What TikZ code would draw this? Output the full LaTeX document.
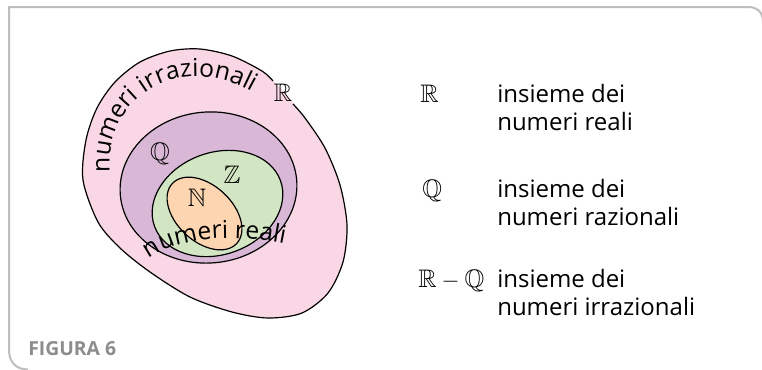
\documentclass[tikz,border=0pt]{standalone}
\usepackage{fontspec}
\usepackage{amssymb}
\setmainfont{Open Sans}
\usetikzlibrary{decorations.text}

\newcommand{\fontVenn}{\fontsize{18.5}{21}\selectfont}

\begin{document}
\begin{tikzpicture}[x=0.75pt, y=-0.75pt,
  testo/.style={font=\fontsize{18}{21}\selectfont, inner sep=0pt, anchor=base west},
  insieme/.style={font=\fontsize{19}{21}\selectfont, inner sep=0pt},
  bordo/.style={draw=black, line width=0.9pt}]

% Colori
\definecolor{colR}{HTML}{F9D7E4}
\definecolor{colQ}{HTML}{D9B7D6}
\definecolor{colZ}{HTML}{D3E6C3}
\definecolor{colN}{HTML}{FDD5B0}
\definecolor{frameGray}{HTML}{BEBEBE}
\definecolor{titleGray}{HTML}{8C8C8C}

\path[use as bounding box, fill=white] (0,0) rectangle (762,369);

% Cornice
\draw[frameGray, line width=1.5pt] (28,369.5) .. controls (16,369.5) and (9,362) .. (9,350)
  -- (9,7) -- (748,7) .. controls (757,7) and (763,12) .. (763,22);

% Insieme R (contorno interrotto sotto l'etichetta)
\fill[colR] plot[smooth cycle] coordinates {(83,180) (86,140) (97,108) (115,82) (140,62)
  (170,51) (200,49) (232,56) (262,71) (283,91) (305,118) (325,148) (340,185) (347,225)
  (343,262) (328,293) (302,313) (268,318) (232,312) (190,297) (150,272) (120,248) (98,222)};
\draw[bordo] plot[smooth] coordinates {(293,104) (305,118) (325,148) (340,185) (347,225)
  (343,262) (328,293) (302,313) (268,318) (232,312) (190,297) (150,272) (120,248) (98,222)
  (83,180) (86,140) (97,108) (115,82) (140,62) (170,51) (200,49) (232,56) (262,71) (273,81)};

% Insiemi Q, Z, N
\draw[bordo, fill=colQ, rotate around={5:(208.5,187.5)}] (208.5,187.5) ellipse [x radius=88.5, y radius=75.5];
\draw[bordo, fill=colZ, rotate around={20:(217.5,203.5)}] (217.5,203.5) ellipse [x radius=67, y radius=51];
\draw[bordo, fill=colN, rotate around={-43:(204.5,213.5)}] (204.5,213.5) ellipse [x radius=44, y radius=28];

% Etichette degli insiemi
\node[insieme] (labR) at (283,93) {$\mathbb{R}$};
\node[insieme] (labQ) at (160,154) {$\mathbb{Q}$};
\node[insieme] (labZ) at (232,175) {$\mathbb{Z}$};
\node[insieme] (labN) at (197,198) {$\mathbb{N}$};

% Scritte lungo i bordi
\path[decorate, decoration={text along path, text={|\fontVenn|numeri irrazionali}, text align=left}]
  (110,172) .. controls (104,95) and (185,46) .. (262,98);
\path[decorate, decoration={text along path, text={|\fontVenn|numeri reali}, text align=left}]
  (149,259) .. controls (170,242) and (225,228) .. (302,248);

% Legenda
\node[insieme, anchor=base west] (simR) at (420,102) {$\mathbb{R}$};
\node[testo] (defR1) at (497,102) {insieme dei};
\node[testo] (defR2) at (497,130) {numeri reali};

\node[insieme, anchor=base west] (simQ) at (422,197) {$\mathbb{Q}$};
\node[testo] (defQ1) at (497,197) {insieme dei};
\node[testo] (defQ2) at (497,225) {numeri razionali};

\node[insieme, anchor=base west] (simRQ) at (418,287) {$\mathbb{R}-\mathbb{Q}$};
\node[testo] (defRQ1) at (497,287) {insieme dei};
\node[testo] (defRQ2) at (497,315) {numeri irrazionali};

% Didascalia
\node[font=\fontsize{14.5}{16}\selectfont\bfseries, text=titleGray, inner sep=0pt, anchor=base west]
  (titolo) at (28,355) {FIGURA 6};

\end{tikzpicture}
\end{document}
